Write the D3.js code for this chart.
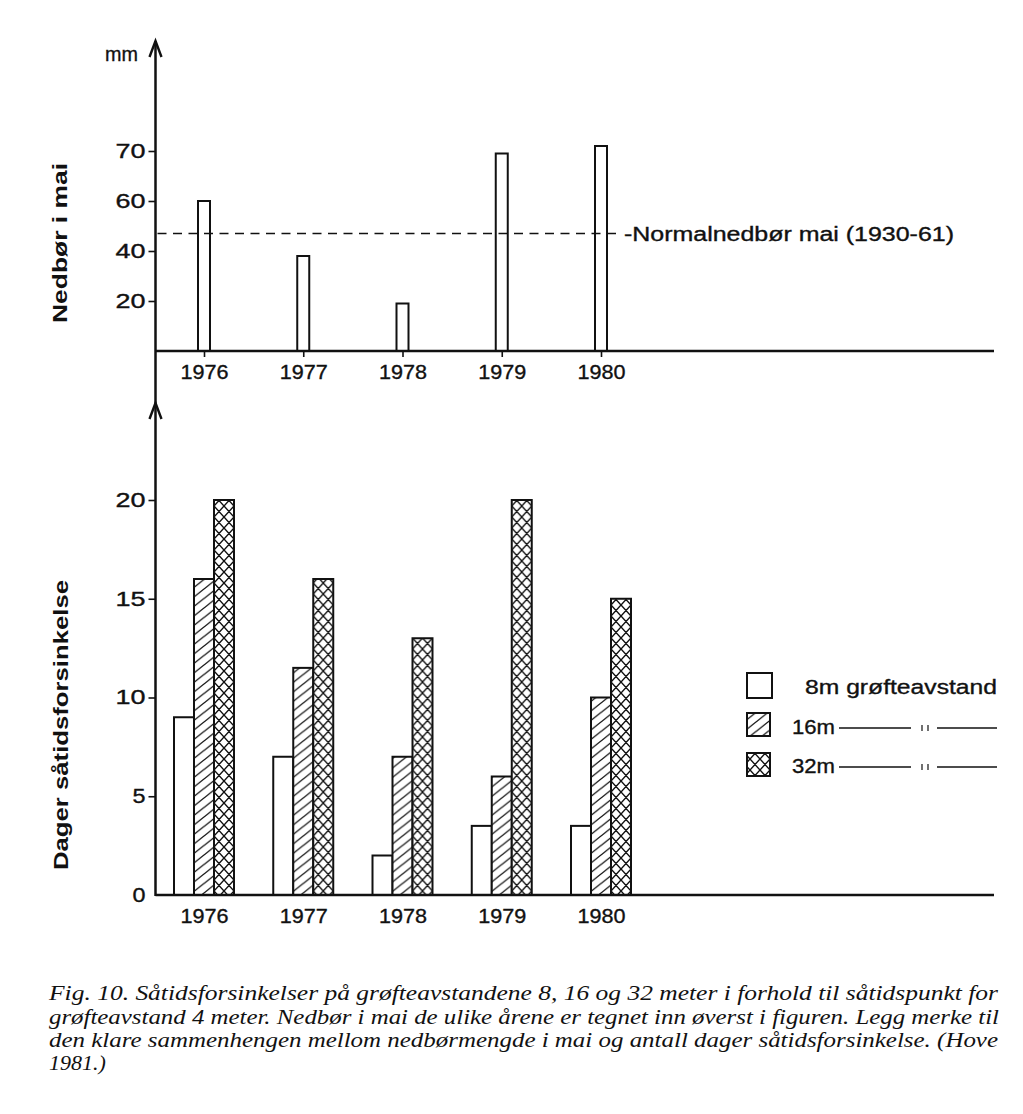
<!DOCTYPE html>
<html>
<head>
<meta charset="utf-8">
<script src="https://cdn.jsdelivr.net/npm/d3@7"></script>
<style>
  html, body { margin: 0; padding: 0; background: #fff; }
  svg { display: block; }
  text { font-family: "Liberation Sans", Arial, sans-serif; fill: #111; }
  text.sans { stroke: #111; stroke-width: 0.35px; }
</style>
</head>
<body>
<svg id="chart" width="1023" height="1114"></svg>
<script>
// ---------- DATA ----------
const years = ["1976", "1977", "1978", "1979", "1980"];
const rainfall = [60, 38, 19, 69.5, 71];          // Nedbør i mai (mm), as drawn
const normalRain = 47;                            // Normalnedbør mai (1930-61)
const rainTicks = [20, 40, 60, 70];
const rainTickLabels = ["20", "40", "60", "70"];

const seriesNames = ["8m", "16m", "32m"];
const delay8 = [9, 7, 2, 3.5, 3.5];
const delay16 = [16, 11.5, 7, 6, 10];
const delay32 = [20, 16, 13, 20, 15];
const delayTicks = [0, 5, 10, 15, 20];

const legendLabels = ["8m grøfteavstand", "16m", "32m"];
const captionLines = [
  "Fig. 10. Såtidsforsinkelser på grøfteavstandene 8, 16 og 32 meter i forhold til såtidspunkt for",
  "grøfteavstand 4 meter. Nedbør i mai de ulike årene er tegnet inn øverst i figuren. Legg merke til",
  "den klare sammenhengen mellom nedbørmengde i mai og antall dager såtidsforsinkelse. (Hove",
  "1981.)"
];

// ---------- SETUP ----------
const svg = d3.select("#chart");
const defs = svg.append("defs");

// hatch pattern "/"
const ph = defs.append("pattern").attr("id", "hatch")
  .attr("patternUnits", "userSpaceOnUse").attr("width", 12).attr("height", 9.5);
ph.append("rect").attr("width", 12).attr("height", 9.5).attr("fill", "#fff");
ph.append("path")
  .attr("d", "M-12,19 L24,-9.5 M-12,9.5 L12,-9.5 M0,19 L24,0")
  .attr("stroke", "#111").attr("stroke-width", 1.3).attr("fill", "none");

// cross hatch pattern
const pc = defs.append("pattern").attr("id", "cross")
  .attr("patternUnits", "userSpaceOnUse").attr("width", 10).attr("height", 11);
pc.append("rect").attr("width", 10).attr("height", 11).attr("fill", "#fff");
pc.append("path")
  .attr("d", "M-10,22 L20,-11 M-10,11 L10,-11 M0,22 L20,0 M-10,-11 L20,22 M-10,0 L10,22 M0,-11 L20,11")
  .attr("stroke", "#111").attr("stroke-width", 1.4).attr("fill", "none");

const fills = ["#fff", "url(#hatch)", "url(#cross)"];

const axisX = 155.5;
const x = d3.scalePoint().domain(years).range([204, 601]);
const yTop = d3.scaleLinear().domain([0, 60, 70]).range([351, 201, 151]);
const yBot = d3.scaleLinear().domain([0, 20]).range([895, 500]);
const inner = d3.scaleBand().domain(seriesNames).range([-30, 30]);

// ---------- TOP CHART ----------
const topG = svg.append("g");

// bars
topG.selectAll("rect.rain").data(years).enter().append("rect")
  .attr("class", "rain")
  .attr("x", d => x(d) - 6)
  .attr("width", 12)
  .attr("y", (d, i) => yTop(rainfall[i]))
  .attr("height", (d, i) => yTop(0) - yTop(rainfall[i]))
  .attr("fill", "#fff").attr("stroke", "#111").attr("stroke-width", 2);

// normal line
topG.append("line")
  .attr("x1", axisX + 2).attr("x2", 616)
  .attr("y1", yTop(normalRain)).attr("y2", yTop(normalRain))
  .attr("stroke", "#111").attr("stroke-width", 1.6).attr("stroke-dasharray", "9,6.5");
topG.append("text").attr("class", "sans")
  .attr("x", 624).attr("y", yTop(normalRain) + 7)
  .attr("font-size", 19.5).attr("textLength", 330).attr("lengthAdjust", "spacingAndGlyphs")
  .text("-Normalnedbør mai (1930-61)");

// baseline
topG.append("line")
  .attr("x1", axisX).attr("x2", 994).attr("y1", yTop(0)).attr("y2", yTop(0))
  .attr("stroke", "#111").attr("stroke-width", 2.5);

// year ticks + labels
const topX = topG.append("g").attr("transform", `translate(0,${yTop(0)})`)
  .call(d3.axisBottom(x).tickSize(6).tickPadding(14));
topX.select(".domain").remove();
topX.selectAll("line").attr("stroke", "#111").attr("stroke-width", 1.6);
topX.selectAll("text").attr("class", "sans").attr("font-size", 20)
  .attr("font-family", "Liberation Sans, Arial, sans-serif")
  .attr("fill", "#111").attr("dy", "0.4em")
  .attr("textLength", 48).attr("lengthAdjust", "spacingAndGlyphs");

// y axis ticks
const topY = topG.append("g").attr("transform", `translate(${axisX},0)`)
  .call(d3.axisLeft(yTop).tickValues(rainTicks).tickSize(7).tickPadding(3)
    .tickFormat((d, i) => rainTickLabels[i]));
topY.select(".domain").remove();
topY.selectAll("line").attr("stroke", "#111").attr("stroke-width", 1.6);
topY.selectAll("text").attr("class", "sans").attr("font-size", 19.5)
  .attr("font-family", "Liberation Sans, Arial, sans-serif")
  .attr("fill", "#111")
  .attr("textLength", 30).attr("lengthAdjust", "spacingAndGlyphs");

topG.append("text").attr("class", "sans").attr("x", 105).attr("y", 61).attr("font-size", 21)
  .attr("textLength", 33).attr("lengthAdjust", "spacingAndGlyphs").text("mm");

topG.append("text")
  .attr("transform", `translate(67,243) rotate(-90)`)
  .attr("text-anchor", "middle").attr("font-size", 21).attr("font-weight", "bold")
  .attr("textLength", 160).attr("lengthAdjust", "spacingAndGlyphs")
  .text("Nedbør i mai");

// ---------- AXIS LINE + ARROWS ----------
svg.append("line").attr("x1", axisX).attr("x2", axisX).attr("y1", 41).attr("y2", yBot(0) + 1)
  .attr("stroke", "#111").attr("stroke-width", 2.5);
[41, 403].forEach(ty => {
  svg.append("path")
    .attr("d", `M${axisX - 6},${ty + 16} L${axisX},${ty} L${axisX + 6},${ty + 16}`)
    .attr("fill", "none").attr("stroke", "#111").attr("stroke-width", 2.4);
});

// ---------- BOTTOM CHART ----------
const bot = svg.append("g");
const delays = [delay8, delay16, delay32];

const groups = bot.selectAll("g.grp").data(years).enter().append("g")
  .attr("class", "grp").attr("transform", d => `translate(${x(d)},0)`);
seriesNames.forEach((s, si) => {
  groups.append("rect")
    .attr("x", inner(s))
    .attr("width", inner.bandwidth())
    .attr("y", (d, i) => yBot(delays[si][i]))
    .attr("height", (d, i) => yBot(0) - yBot(delays[si][i]))
    .attr("fill", fills[si]).attr("stroke", "#111").attr("stroke-width", 2);
});

bot.append("line")
  .attr("x1", axisX).attr("x2", 994).attr("y1", yBot(0)).attr("y2", yBot(0))
  .attr("stroke", "#111").attr("stroke-width", 2.5);

const botX = bot.append("g").attr("transform", `translate(0,${yBot(0)})`)
  .call(d3.axisBottom(x).tickSize(0).tickPadding(20));
botX.select(".domain").remove();
botX.selectAll("text").attr("class", "sans").attr("font-size", 20)
  .attr("font-family", "Liberation Sans, Arial, sans-serif")
  .attr("fill", "#111").attr("dy", "0.4em")
  .attr("textLength", 48).attr("lengthAdjust", "spacingAndGlyphs");

const botY = bot.append("g").attr("transform", `translate(${axisX},0)`)
  .call(d3.axisLeft(yBot).tickValues(delayTicks).tickSize(7).tickPadding(3));
botY.select(".domain").remove();
botY.selectAll("line").attr("stroke", "#111").attr("stroke-width", 1.6)
  .filter(d => d === 0).remove();
botY.selectAll("text").attr("class", "sans").attr("font-size", 19.5)
  .attr("font-family", "Liberation Sans, Arial, sans-serif")
  .attr("fill", "#111")
  .attr("textLength", d => String(d).length > 1 ? 30 : 13).attr("lengthAdjust", "spacingAndGlyphs");
botY.selectAll(".tick").filter(d => d === 0).select("text").attr("x", -10);

bot.append("text")
  .attr("transform", `translate(68,725) rotate(-90)`)
  .attr("text-anchor", "middle").attr("font-size", 21).attr("font-weight", "bold")
  .attr("textLength", 290).attr("lengthAdjust", "spacingAndGlyphs")
  .text("Dager såtidsforsinkelse");

// ---------- LEGEND ----------
const leg = svg.append("g");
const legBoxes = [[747, 673, 25], [747, 713, 23], [747, 753, 23]];
legendLabels.forEach((lab, i) => {
  const b = legBoxes[i];
  leg.append("rect").attr("x", b[0]).attr("y", b[1]).attr("width", b[2]).attr("height", b[2])
    .attr("fill", fills[i]).attr("stroke", "#111").attr("stroke-width", 2);
});
leg.append("text").attr("class", "sans").attr("x", 805).attr("y", 694).attr("font-size", 20.5)
  .attr("textLength", 192).attr("lengthAdjust", "spacingAndGlyphs").text(legendLabels[0]);
[[legendLabels[1], 734, 728], [legendLabels[2], 773, 767]].forEach(([lab, by, ly]) => {
  leg.append("text").attr("class", "sans").attr("x", 792).attr("y", by).attr("font-size", 20.5)
    .attr("textLength", 43).attr("lengthAdjust", "spacingAndGlyphs").text(lab);
  leg.append("line").attr("x1", 839).attr("x2", 911).attr("y1", ly).attr("y2", ly)
    .attr("stroke", "#111").attr("stroke-width", 1.3);
  leg.append("line").attr("x1", 937).attr("x2", 997).attr("y1", ly).attr("y2", ly)
    .attr("stroke", "#111").attr("stroke-width", 1.3);
  [922, 928].forEach(mx => leg.append("line").attr("x1", mx).attr("x2", mx)
    .attr("y1", ly - 3).attr("y2", ly + 3).attr("stroke", "#111").attr("stroke-width", 1.2));
});

// ---------- CAPTION ----------
const capLens = [949, 950, 949, null];
const capY = [1000, 1023.5, 1047, 1070];
captionLines.forEach((line, i) => {
  const t = svg.append("text").attr("x", 49).attr("y", capY[i])
    .style("font-family", "'Liberation Serif', 'Times New Roman', serif")
    .style("font-style", "italic").attr("font-size", 22).text(line);
  if (capLens[i]) t.attr("textLength", capLens[i]).attr("lengthAdjust", "spacingAndGlyphs");
});
</script>
</body>
</html>
